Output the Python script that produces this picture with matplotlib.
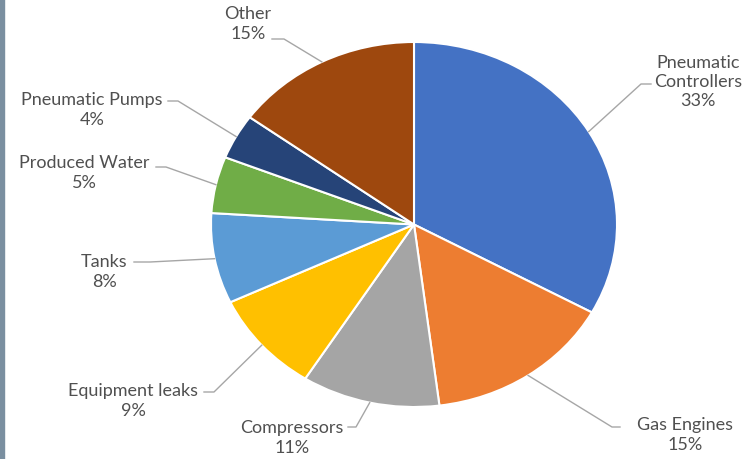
import numpy as np
import matplotlib.pyplot as plt
from matplotlib.patches import Rectangle

plt.rcParams['font.family'] = ['Lato', 'DejaVu Sans']

# Data
labels = ["Pneumatic\nControllers", "Gas Engines", "Compressors", "Equipment leaks",
          "Tanks", "Produced Water", "Pneumatic Pumps", "Other"]
shares = [33, 15, 11, 9, 8, 5, 4, 15]
colors = ["#4472C4", "#ED7D31", "#A5A5A5", "#FFC000",
          "#5B9BD5", "#70AD47", "#264478", "#9E480E"]

# label layout in image pixels (centre of text block, elbow point of leader, text end point)
text_pos = [(698, 82), (685, 435), (292, 438), (133, 401),
            (104, 272), (84, 173), (92, 110), (248, 24)]
line_end = [(651, 85), (620, 428), (348, 428), (204, 393),
            (134, 263), (156, 168), (168, 102), (272, 40)]
elbow = [(641, 85), (612, 428), (356, 428), (214, 393),
         (150, 263), (166, 168), (178, 102), (284, 40)]

W, H = 749, 460
cx, cy, rx, ry = 414, 225.5, 203, 182.5

fig = plt.figure(figsize=(W / 100, H / 100), dpi=100)
ax = fig.add_axes([(cx - rx) / W, (H - cy - ry) / H, 2 * rx / W, 2 * ry / H])

wedges, _ = ax.pie(shares, colors=colors, startangle=90, counterclock=False,
                   wedgeprops=dict(edgecolor="white", linewidth=1.5))
ax.set_aspect("auto")
ax.set_xlim(-1, 1)
ax.set_ylim(-1, 1)


def px2data(p):
    return (p[0] - cx) / rx, (cy - p[1]) / ry


total = sum(shares)
start = 90.0
for i, v in enumerate(shares):
    ang = np.deg2rad(start - v / total * 360 / 2)
    start -= v / total * 360
    wx, wy = np.cos(ang), np.sin(ang)
    ex, ey = px2data(elbow[i])
    lx, ly = px2data(line_end[i])
    ax.plot([wx, ex, lx], [wy, ey, ly], color="#A6A6A6", lw=1, clip_on=False)
    tx, ty = px2data(text_pos[i])
    ax.text(tx, ty, f"{labels[i]}\n{v}%", ha="center", va="center",
            multialignment="center", fontsize=13, color="#505050",
            linespacing=1.25, clip_on=False)

# dark strip on the left edge
fig.patches.append(Rectangle((0, 0), 4 / W, 1, transform=fig.transFigure,
                             color="#7A8FA0", zorder=0))

fig.savefig("out.png", dpi=100)
